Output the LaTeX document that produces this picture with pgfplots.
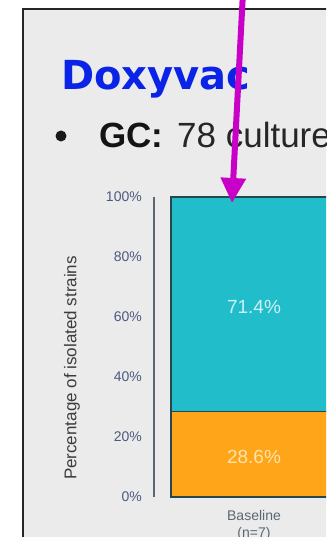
\documentclass[border=0pt]{standalone}
\usepackage{pgfplots}
\pgfplotsset{compat=1.18}
\usetikzlibrary{arrows.meta}
\usepackage{fontspec}
\setmainfont{Liberation Sans}
\newfontfamily\titlefont{DejaVu Sans}
\definecolor{slidebg}{HTML}{EBEBEB}
\definecolor{titleblue}{HTML}{0A23E6}
\definecolor{tealc}{HTML}{22BDCB}
\definecolor{orangec}{HTML}{FFA519}
\definecolor{barborder}{HTML}{24464C}
\definecolor{tickc}{HTML}{4B5A7E}
\definecolor{axisc}{HTML}{5A6670}
\definecolor{labelc}{HTML}{3C3C3C}
\definecolor{xlabc}{HTML}{5A6773}
\definecolor{arrowc}{HTML}{C800C8}
\definecolor{tealtext}{HTML}{CDF1F4}
\definecolor{orangetext}{HTML}{FFE3AC}
\begin{document}
\begin{tikzpicture}[x=1pt,y=1pt]
\useasboundingbox (0,0) rectangle (326,537);
\fill[white] (0,0) rectangle (326,537);
\begin{scope}
\clip (0,0) rectangle (326,537);
\fill[slidebg] (23,-10) rectangle (340,528);
\draw[line width=2pt, black!85] (23,-10) -- (23,528) -- (340,528);
\node[anchor=base west, inner sep=0pt, text=titleblue, font=\titlefont\bfseries\fontsize{40}{40}\selectfont] at (61,447) {Doxyvac};
\fill[black!90] (61,401) circle (5.5);
\node[anchor=base west, inner sep=0pt, text=black!92, font=\bfseries\fontsize{35}{35}\selectfont] at (99,389) {GC:};
\node[anchor=base west, inner sep=0pt, text=black!85, font=\fontsize{35}{35}\selectfont] at (177,389) {78 culture};
\begin{axis}[
  at={(254pt,40pt)}, anchor=origin,
  scale only axis, width=200pt, height=300pt,
  xmin=-1, xmax=1, ymin=0, ymax=100,
  ybar stacked, bar width=166pt,
  axis lines=left,
  axis line style={-},
  x axis line style={draw=none},
  y axis line style={draw=axisc, line width=1.5pt},
  major tick length=0pt,
  ytick={0,20,40,60,80,100},
  yticklabel={\pgfmathprintnumber{\tick}\%},
  /pgf/number format/assume math mode=true,
  yticklabel style={font=\fontsize{14}{14}\selectfont, text=tickc, inner sep=0pt, xshift=-12pt},
  xtick={0},
  xticklabels={{Baseline\\(n=7)}},
  xticklabel style={align=center, font=\fontsize{14}{17}\selectfont, text=xlabc, inner sep=0pt, yshift=-13pt},
  ylabel={Percentage of isolated strains},
  ylabel style={at={(axis description cs:-0.41,0.43)}, anchor=center, font=\fontsize{17}{17}\selectfont, text=labelc},
  clip=false,
]
\addplot[fill=orangec, draw=barborder, line width=1.3pt] coordinates {(0,28.6)};
\addplot[fill=tealc, draw=barborder, line width=1.3pt] coordinates {(0,71.4)};
\coordinate (lblA) at (axis cs:0,14.3);
\coordinate (lblB) at (axis cs:0,64.3);
\end{axis}
\node[text=orangetext, yshift=-3pt, font=\fontsize{19}{19}\selectfont] at (lblA) {28.6\%};
\node[text=tealtext, yshift=-3pt, font=\fontsize{19}{19}\selectfont] at (lblB) {71.4\%};
\draw[line width=6pt, arrowc, -{Triangle[width=24pt,length=25pt]}] (243,545) -- (232,334);
\end{scope}
\end{tikzpicture}
\end{document}
